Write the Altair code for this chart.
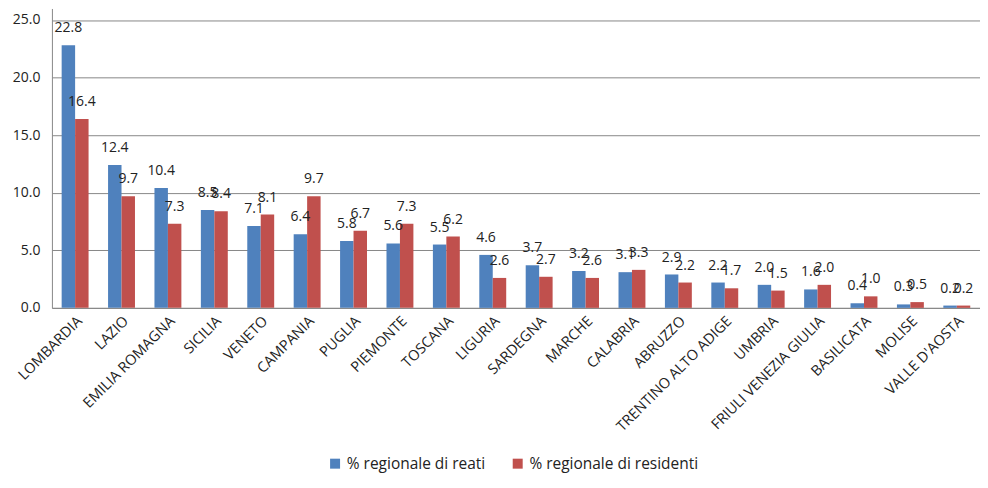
import altair as alt
import pandas as pd

regions = ["LOMBARDIA", "LAZIO", "EMILIA ROMAGNA", "SICILIA", "VENETO", "CAMPANIA",
           "PUGLIA", "PIEMONTE", "TOSCANA", "LIGURIA", "SARDEGNA", "MARCHE",
           "CALABRIA", "ABRUZZO", "TRENTINO ALTO ADIGE", "UMBRIA",
           "FRIULI VENEZIA GIULIA", "BASILICATA", "MOLISE", "VALLE D'AOSTA"]
reati = [22.8, 12.4, 10.4, 8.5, 7.1, 6.4, 5.8, 5.6, 5.5, 4.6, 3.7, 3.2, 3.1, 2.9,
         2.2, 2.0, 1.6, 0.4, 0.3, 0.2]
residenti = [16.4, 9.7, 7.3, 8.4, 8.1, 9.7, 6.7, 7.3, 6.2, 2.6, 2.7, 2.6, 3.3, 2.2,
             1.7, 1.5, 2.0, 1.0, 0.5, 0.2]
series = ["% regionale di reati", "% regionale di residenti"]
colors = ["#4F81BD", "#C0504D"]

rows = []
for r, a, b in zip(regions, reati, residenti):
    rows.append({"regione": r, "serie": series[0], "valore": a})
    rows.append({"regione": r, "serie": series[1], "valore": b})
df = pd.DataFrame(rows)

FONT = "Open Sans"

base = alt.Chart(df).encode(
    x=alt.X("regione:N", sort=regions, title=None,
            scale=alt.Scale(paddingInner=0.42, paddingOuter=0.21),
            axis=alt.Axis(labelAngle=-45, labelFontSize=14.5, labelFont=FONT,
                          labelColor="#222222", ticks=False, domainColor="#888888",
                          labelPadding=6, labelLimit=300)),
    xOffset=alt.XOffset("serie:N", sort=series),
)

bars = base.mark_bar().encode(
    y=alt.Y("valore:Q", title=None,
            scale=alt.Scale(domain=[0, 25]),
            axis=alt.Axis(values=[0, 5, 10, 15, 20, 25], format=".1f",
                          labelFontSize=14, labelFont=FONT, labelColor="#222222",
                          ticks=False, domainColor="#888888", gridColor="#888888",
                          gridWidth=1, labelPadding=12)),
    color=alt.Color("serie:N", sort=series,
                    scale=alt.Scale(domain=series, range=colors),
                    legend=alt.Legend(title=None, orient="none", direction="horizontal",
                                      legendX=276, legendY=448, symbolType="square",
                                      symbolSize=100, symbolStrokeWidth=0,
                                      labelFontSize=15.5, labelFont=FONT, labelLimit=400,
                                      labelColor="#222222", columnPadding=24)),
)

labels = base.mark_text(dy=-17, fontSize=14, font=FONT, color="#222222").encode(
    y=alt.Y("valore:Q"),
    text=alt.Text("valore:Q", format=".1f"),
)

chart = (bars + labels).properties(
    width=930, height=300,
    autosize=alt.AutoSizeParams(type="none"),
    padding={"left": 44, "top": 0, "right": 0, "bottom": 170},
).configure_view(
    stroke=None
).configure_axis(grid=True).configure_axisX(grid=False)

chart.save("out.html", embed_options={"renderer": "svg", "actions": False})
